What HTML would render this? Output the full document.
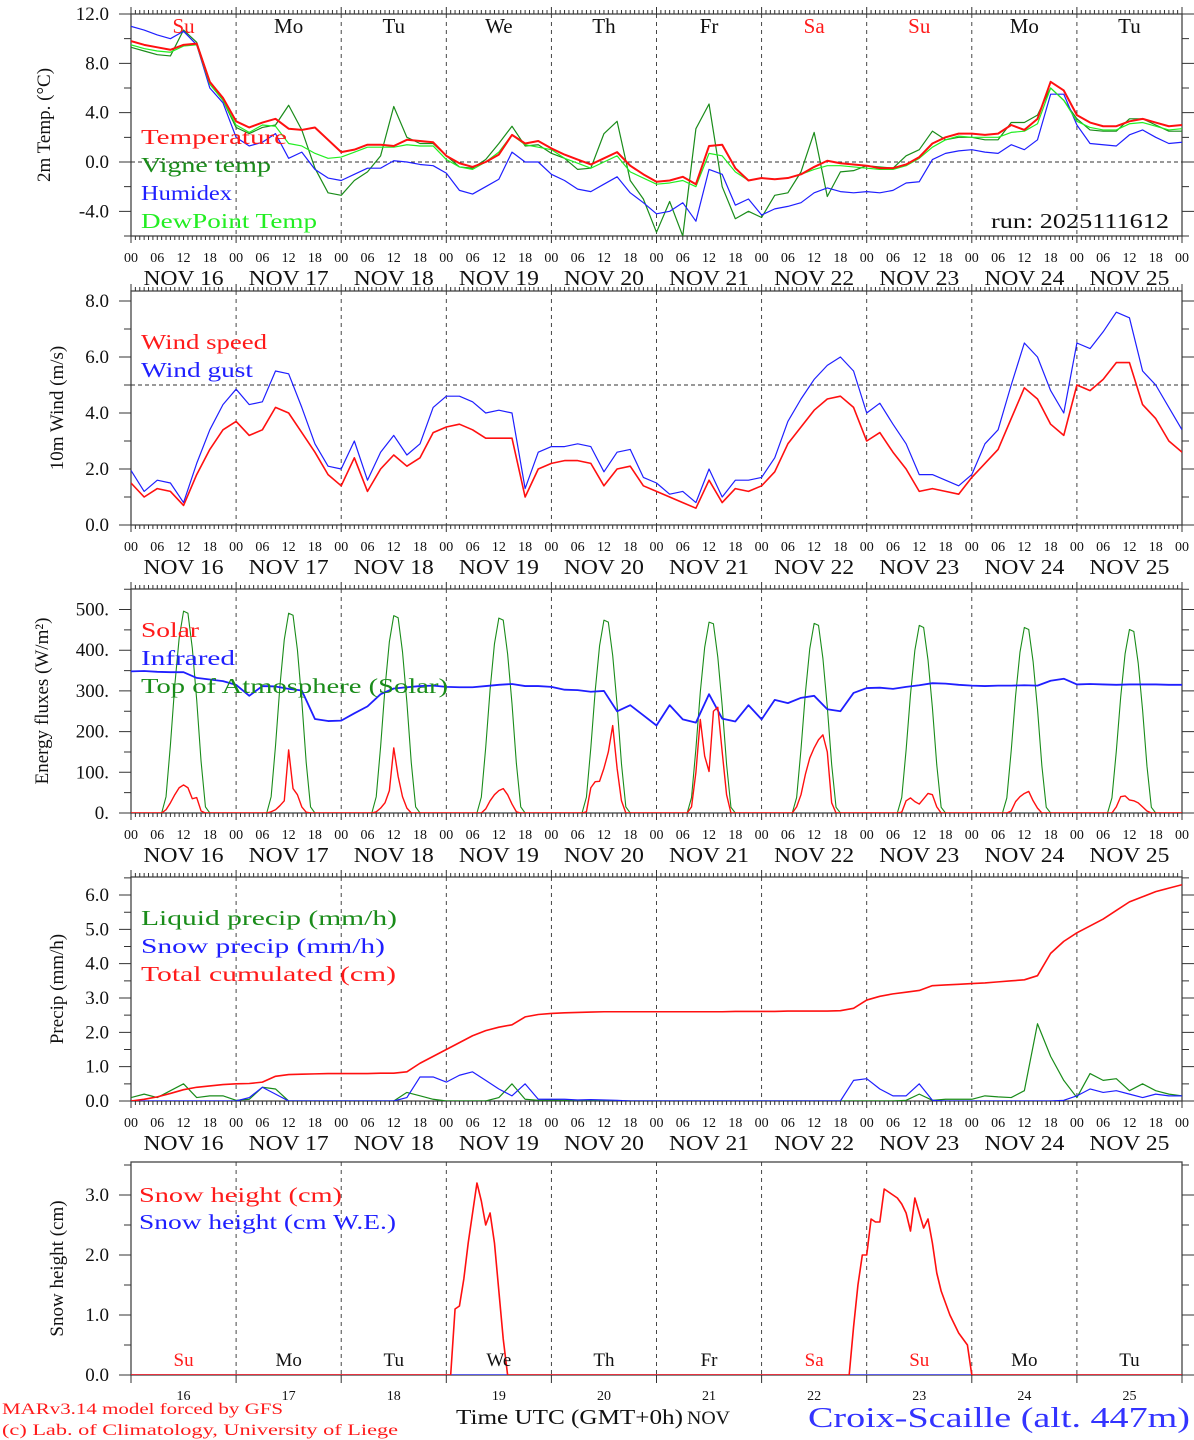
<!DOCTYPE html>
<html><head><meta charset="utf-8">
<style>
html,body{margin:0;padding:0;background:#fff;}
svg{display:block;}
text{font-family:"Liberation Serif","DejaVu Serif",serif;}
</style></head>
<body>
<svg id="chart" width="1194" height="1440" viewBox="0 0 1194 1440" xmlns="http://www.w3.org/2000/svg">
<defs>
<clipPath id="c1"><rect x="131" y="14" width="1051" height="222"/></clipPath>
<clipPath id="c2"><rect x="131" y="291" width="1051" height="234"/></clipPath>
<clipPath id="c3"><rect x="131" y="589" width="1051" height="224"/></clipPath>
<clipPath id="c4"><rect x="131" y="877" width="1051" height="224"/></clipPath>
<clipPath id="c5"><rect x="131" y="1162" width="1051" height="213"/></clipPath>
</defs>
</svg>
<script>
// ---------- DATA (3-hourly, 81 points from Nov16 00h to Nov26 00h) ----------
const days = ["16","17","18","19","20","21","22","23","24","25"];
const weekdays = ["Su","Mo","Tu","We","Th","Fr","Sa","Su","Mo","Tu"];
const hourTicks = ["00","06","12","18"];
const tempTicks = [12.0, 8.0, 4.0, 0.0, -4.0];
const windTicks = [8.0, 6.0, 4.0, 2.0, 0.0];
const energyTicks = [500, 400, 300, 200, 100, 0];
const precipTicks = [6.0, 5.0, 4.0, 3.0, 2.0, 1.0, 0.0];
const snowTicks = [3.0, 2.0, 1.0, 0.0];

const temperature = [9.8,9.5,9.3,9.1,9.5,9.6,6.5,5.2, 3.3,2.8,3.2,3.5,2.7,2.6,2.8,1.8, 0.8,1.0,1.4,1.4,1.3,1.8,1.7,1.6, 0.5,-0.1,-0.4,0.0,0.6,2.2,1.5,1.7, 1.1,0.6,0.2,-0.2,0.3,0.8,-0.3,-1.0, -1.6,-1.5,-1.2,-1.8,1.3,1.4,-0.5,-1.5, -1.3,-1.4,-1.3,-1.0,-0.4,0.1,-0.1,-0.2, -0.3,-0.5,-0.5,-0.2,0.4,1.5,2.0,2.3, 2.3,2.2,2.3,3.0,2.6,3.5,6.5,5.8, 3.8,3.2,2.9,2.9,3.3,3.5,3.2,2.9, 3.0];
const vigneTemp = [9.3,9.0,8.7,8.6,10.7,9.7,6.5,5.0, 2.8,2.3,2.8,3.0,4.6,2.6,-0.5,-2.5, -2.7,-1.5,-0.8,0.5,4.5,2.0,1.5,1.5, 0.5,-0.4,-0.5,0.2,1.5,2.9,1.3,1.4, 0.7,0.3,-0.6,-0.5,2.3,3.3,-1.5,-3.0, -5.7,-3.2,-6.0,2.7,4.7,-2.0,-4.6,-4.0, -4.5,-2.7,-2.5,-0.8,2.4,-2.8,-0.8,-0.7, -0.3,-0.4,-0.5,0.5,1.0,2.5,1.8,2.0, 2.0,1.8,1.8,3.2,3.2,3.8,6.0,5.0, 3.5,2.6,2.5,2.5,3.5,3.5,3.0,2.5, 2.5];
const humidex = [11.0,10.7,10.3,10.0,10.6,9.5,6.0,4.8, 2.0,1.3,1.6,2.3,0.3,0.8,-0.6,-1.3, -1.5,-1.0,-0.5,-0.5,0.1,0.0,-0.2,-0.3, -0.9,-2.3,-2.6,-2.0,-1.4,0.8,0.0,0.0, -1.0,-1.5,-2.2,-2.4,-1.8,-1.2,-2.5,-3.3, -4.2,-4.0,-3.3,-4.8,-0.6,-1.0,-3.5,-3.0, -4.3,-3.8,-3.6,-3.3,-2.5,-2.1,-2.4,-2.5, -2.4,-2.5,-2.3,-1.7,-1.6,0.2,0.7,0.9, 1.0,0.8,0.7,1.4,1.0,1.8,5.5,5.5, 3.0,1.5,1.4,1.3,2.2,2.6,2.0,1.5, 1.6];
const dewPoint = [9.5,9.2,9.0,8.9,9.4,9.5,6.3,5.0, 3.0,2.4,3.0,2.9,1.5,1.3,0.7,0.3, 0.4,0.8,1.2,1.2,1.2,1.4,1.3,1.3, 0.2,-0.4,-0.6,0.0,0.8,2.2,1.4,1.2, 1.0,0.3,-0.1,-0.5,0.0,0.5,-0.8,-1.3, -1.8,-1.7,-1.5,-2.0,0.7,0.5,-0.8,-1.5, -1.3,-1.4,-1.3,-1.0,-0.6,-0.3,-0.3,-0.4, -0.5,-0.6,-0.6,-0.3,0.3,1.2,1.8,2.1, 2.0,2.0,2.0,2.4,2.5,3.1,6.0,5.0, 3.3,2.8,2.6,2.6,3.1,3.2,2.9,2.6, 2.7];

const windSpeed = [1.5,1.0,1.3,1.2,0.7,1.8,2.7,3.4, 3.7,3.2,3.4,4.2,4.0,3.3,2.6,1.8, 1.4,2.4,1.2,2.0,2.5,2.1,2.4,3.3, 3.5,3.6,3.4,3.1,3.1,3.1,1.0,2.0, 2.2,2.3,2.3,2.2,1.4,2.0,2.1,1.4, 1.2,1.0,0.8,0.6,1.6,0.8,1.3,1.2, 1.4,1.9,2.9,3.5,4.1,4.5,4.6,4.2, 3.0,3.3,2.6,2.0,1.2,1.3,1.2,1.1, 1.7,2.2,2.7,3.8,4.9,4.5,3.6,3.2, 5.0,4.8,5.2,5.8,5.8,4.3,3.8,3.0, 2.6];
const windGust = [1.95,1.2,1.6,1.5,0.8,2.2,3.4,4.3, 4.85,4.3,4.4,5.5,5.4,4.2,2.9,2.1, 2.0,3.0,1.6,2.6,3.2,2.5,2.9,4.2, 4.6,4.6,4.4,4.0,4.1,4.0,1.3,2.6, 2.8,2.8,2.9,2.8,1.9,2.6,2.7,1.7, 1.5,1.1,1.2,0.8,2.0,1.0,1.6,1.6, 1.7,2.4,3.7,4.5,5.2,5.7,6.0,5.5, 4.0,4.35,3.6,2.9,1.8,1.8,1.6,1.4, 1.8,2.9,3.4,5.0,6.5,6.0,4.8,4.0, 6.5,6.3,6.9,7.6,7.4,5.5,5.0,4.2, 3.4];

const infrared = [348,349,347,346,346,332,328,324, 315,288,312,311,305,301,231,226, 227,245,262,292,306,309,312,313, 310,309,309,312,315,317,312,312, 310,303,302,298,300,250,265,240, 215,265,230,222,292,232,225,265, 230,278,270,283,288,255,250,295, 307,308,305,310,314,319,318,315, 313,312,313,313,314,313,325,330, 316,317,316,315,316,316,316,315, 315];
// daytime hourly values (hours 07..18) per day
const dayHours = [7,8,9,10,11,12,13,14,15,16,17,18];
const solarByDay = [
 [0,8,25,45,62,69,62,35,38,5,0,0],
 [0,3,8,18,30,155,60,45,15,2,0,0],
 [0,3,12,25,55,160,90,40,12,0,0,0],
 [0,0,10,30,45,55,60,45,22,3,0,0],
 [0,3,62,77,78,110,150,215,110,30,0,0],
 [0,15,100,230,140,102,250,260,150,45,0,0],
 [0,15,45,95,135,160,180,192,150,25,0,0],
 [0,2,30,37,28,22,35,48,45,15,0,0],
 [0,0,5,28,40,48,53,30,12,0,0,0],
 [0,0,15,40,42,32,30,25,15,5,0,0]];
const toaByDay = [
 [0,40,167,314,430,496,491,405,278,127,15,0],
 [0,40,165,311,426,491,486,401,276,125,15,0],
 [0,40,163,307,421,485,480,396,272,124,15,0],
 [0,39,161,303,416,479,474,391,269,122,15,0],
 [0,39,160,300,411,474,469,387,266,121,15,0],
 [0,38,158,297,407,469,465,383,263,120,14,0],
 [0,38,157,295,404,466,461,380,261,119,14,0],
 [0,38,155,291,400,461,456,376,259,118,14,0],
 [0,37,153,288,395,456,451,372,256,116,14,0],
 [0,37,152,285,391,451,446,368,253,115,14,0]];

const liquidPrecip = [0.1,0.2,0.1,0.3,0.5,0.1,0.15,0.15, 0.02,0.05,0.4,0.35,0,0,0,0, 0,0,0,0,0,0.25,0.15,0.05, 0,0,0,0,0.1,0.5,0.05,0.02, 0.03,0.02,0.02,0.02,0.01,0.01,0,0, 0,0,0,0,0,0,0,0, 0,0,0,0,0,0,0,0, 0,0,0,0.02,0.2,0.02,0.05,0.05, 0.05,0.15,0.12,0.1,0.3,2.25,1.3,0.6, 0.1,0.8,0.6,0.65,0.3,0.5,0.3,0.2, 0.15];
const snowPrecip = [0,0,0,0,0,0,0,0, 0,0.1,0.4,0.2,0,0,0,0, 0,0,0,0,0,0.1,0.7,0.7, 0.55,0.75,0.85,0.6,0.35,0.15,0.5,0.05, 0.05,0.05,0.03,0.04,0.03,0.02,0,0, 0,0,0,0,0,0,0,0, 0,0,0,0,0,0,0,0.6, 0.65,0.35,0.15,0.15,0.5,0.02,0,0, 0,0,0,0,0,0,0,0.02, 0.15,0.35,0.25,0.3,0.2,0.1,0.2,0.15, 0.15];
const totalCumul = [0,0.05,0.12,0.22,0.33,0.4,0.44,0.48, 0.5,0.51,0.55,0.72,0.77,0.78,0.79,0.8, 0.8,0.8,0.8,0.81,0.81,0.85,1.1,1.3, 1.5,1.7,1.9,2.05,2.15,2.22,2.45,2.52, 2.55,2.57,2.58,2.59,2.6,2.6,2.6,2.6, 2.6,2.6,2.6,2.6,2.6,2.6,2.61,2.61, 2.61,2.61,2.62,2.62,2.62,2.62,2.63,2.7, 2.94,3.05,3.12,3.17,3.22,3.36,3.38,3.4, 3.42,3.44,3.47,3.5,3.53,3.65,4.3,4.65, 4.9,5.1,5.3,5.55,5.8,5.95,6.1,6.2, 6.3];

const snowHours = [0,73,74,75,76,77,78,79,80,81,82,83,84,85,86,164,165,166,167,168,169,170,171,172,173,174,175,176,177,178,179,180,181,182,183,184,185,186,187,188,189,190,191,192,240];
const snowHeight = [0,0,1.1,1.15,1.6,2.2,2.7,3.2,2.9,2.5,2.7,2.2,1.4,0.6,0,0,0.8,1.5,2.0,2.0,2.6,2.55,2.55,3.1,3.05,3.0,2.95,2.85,2.7,2.4,2.95,2.7,2.45,2.6,2.2,1.7,1.4,1.2,1.0,0.85,0.7,0.6,0.5,0,0];
const snowWE = [0,0];
const snowWEHours = [0,240];

// ---------- DRAWING ----------
const NS = 'http://www.w3.org/2000/svg';
const svg = document.getElementById('chart');
const X0 = 131, X1 = 1182;
function X(h){ return X0 + h*(X1-X0)/240; }
function mk(tag, parent){ const e=document.createElementNS(NS,tag); (parent||svg).appendChild(e); return e; }
function txt(parent, x, y, s, size, color, anchor){
  const t = mk('text', parent);
  t.setAttribute('x', x); t.setAttribute('y', y);
  t.setAttribute('font-size', size); t.setAttribute('fill', color||'#000');
  if(anchor) t.setAttribute('text-anchor', anchor);
  t.textContent = s; return t;
}
function scaler(top,bottom,vmin,vmax){ return v => bottom - (v-vmin)/(vmax-vmin)*(bottom-top); }

const panels = [
 {id:'temp', top:14, bottom:236, vmin:-6, vmax:12, clip:'c1'},
 {id:'wind', top:291, bottom:525, vmin:0, vmax:8.357, clip:'c2'},
 {id:'energy', top:589, bottom:813, vmin:0, vmax:550.5, clip:'c3'},
 {id:'precip', top:877, bottom:1101, vmin:0, vmax:6.525, clip:'c4'},
 {id:'snow', top:1162, bottom:1375, vmin:0, vmax:3.55, clip:'c5'}
];

function frame(p, ticks, fmt, minorStep, title, titleX, showHourRow){
  const g = mk('g');
  
  
  const Y = scaler(p.top,p.bottom,p.vmin,p.vmax);
  const r = mk('rect', g);
  r.setAttribute('x',X0); r.setAttribute('y',p.top); r.setAttribute('width',X1-X0); r.setAttribute('height',p.bottom-p.top);
  r.setAttribute('fill','none'); r.setAttribute('stroke','#444'); r.setAttribute('stroke-width','1.3');
  
  
  for(let d=1; d<10; d++){
    const l = mk('line', g);
    l.setAttribute('x1',X(d*24)); l.setAttribute('x2',X(d*24)); l.setAttribute('y1',p.top); l.setAttribute('y2',p.bottom);
    l.setAttribute('stroke','#333'); l.setAttribute('stroke-dasharray','4,4'); l.setAttribute('stroke-width','0.9');
    
    
  }
  let dstr='';
  if(showHourRow){
    for(let h=0; h<=240; h++){
      const len = (h%24===0)?7:4;
      dstr += `M${X(h).toFixed(2)} ${p.top}v${-len}M${X(h).toFixed(2)} ${p.bottom}v${len}`;
    }
  } else {
    for(let d=0; d<=10; d++) dstr += `M${X(d*24).toFixed(2)} ${p.bottom}v8`;
  }
  for(let v=p.vmin; v<=p.vmax+1e-9; v+=minorStep){
    const major = ticks.some(t=>Math.abs(t-v)<1e-6);
    const len = major?12:7;
    const y = Y(v).toFixed(2);
    dstr += `M${X0} ${y}h${-len}M${X1} ${y}h${len}`;
  }
  const tk = mk('path', g);
  tk.setAttribute('d', dstr); tk.setAttribute('stroke','#333'); tk.setAttribute('stroke-width','1'); tk.setAttribute('fill','none');
  
  
  ticks.forEach(v=>{
    const t = txt(g, 109, Y(v)+6, fmt(v), 19, '#111', 'end');
    
    
  });
  const tt = txt(g, 0, 0, title, 19, '#111', 'middle');
  tt.setAttribute('transform', `translate(${titleX},${(p.top+p.bottom)/2}) rotate(-90)`);
  
  
  if(showHourRow){
    for(let d=0; d<=10; d++){
      hourTicks.forEach((s,i)=>{
        if(d===10 && i>0) return;
        const t = txt(g, X(d*24+i*6), p.bottom+26, s, 14, '#111', 'middle');
        
        
      });
    }
    days.forEach((s,d)=>{
      const t = txt(g, X(d*24+12), p.bottom+49, 'NOV ' + s, 21, '#111', 'middle');
      t.setAttribute('textLength', 80); t.setAttribute('lengthAdjust','spacingAndGlyphs');
      
      
    });
  }
  return {g, Y};
}

function line(g, p, Y, hours, vals, color, width, name){
  let d='';
  vals.forEach((v,i)=>{ d += (i?'L':'M') + X(hours[i]).toFixed(2) + ' ' + Y(v).toFixed(2); });
  const pa = mk('path', g);
  pa.setAttribute('d', d); pa.setAttribute('fill','none'); pa.setAttribute('stroke', color);
  pa.setAttribute('stroke-width', width); pa.setAttribute('stroke-linejoin','round');
  pa.setAttribute('clip-path', `url(#${p.clip})`);
  
  
}
function legend(g, x, y, s, color, w, name){
  const t = txt(g, x, y+7, s, 21, color);
  t.setAttribute('textLength', w); t.setAttribute('lengthAdjust','spacingAndGlyphs');
  
  
}
function hseq(vals){ return vals.map((v,i)=>i*3); }
function hline(g, p, Y, v){
  const l = mk('line', g);
  l.setAttribute('x1',X0); l.setAttribute('x2',X1); l.setAttribute('y1',Y(v)); l.setAttribute('y2',Y(v));
  l.setAttribute('stroke','#333'); l.setAttribute('stroke-dasharray','4,3'); l.setAttribute('stroke-width','0.9');
  
  
}
function daySeries(byDay){
  const hs=[0], vs=[0];
  byDay.forEach((arr,d)=>{ arr.forEach((v,i)=>{ hs.push(d*24+dayHours[i]); vs.push(v); }); });
  hs.push(240); vs.push(0);
  return {hs, vs};
}

// Panel 1
{
  const p = panels[0];
  const {g,Y} = frame(p, tempTicks, v=>v.toFixed(1), 2, '2m Temp. (°C)', 50, true);
  hline(g,p,Y,0);
  line(g,p,Y,hseq(vigneTemp),vigneTemp,'#1a8c1a',1.2,'vigne-temp-line');
  line(g,p,Y,hseq(humidex),humidex,'#1f1fff',1.2,'humidex-line');
  line(g,p,Y,hseq(dewPoint),dewPoint,'#22ee22',1.2,'dewpoint-line');
  line(g,p,Y,hseq(temperature),temperature,'#ff1010',2,'temperature-line');
  weekdays.forEach((s,d)=>{
    const t = txt(g, X(d*24+12), 33, s, 21, (s==='Su'||s==='Sa')?'#ff1a1a':'#111', 'middle');
    
    
  });
  legend(g,141,137,'Temperature','#ff1a1a',146,'legend-temperature');
  legend(g,141,165,'Vigne temp','#1a8c1a',130,'legend-vigne-temp');
  legend(g,141,193,'Humidex','#1f1fff',91,'legend-humidex');
  legend(g,141,221,'DewPoint Temp','#22ee22',176,'legend-dewpoint');
  const r = txt(g, 1169, 228, 'run: 2025111612', 21, '#111', 'end');
  r.setAttribute('textLength', 178); r.setAttribute('lengthAdjust','spacingAndGlyphs');
  
  
}
// Panel 2
{
  const p = panels[1];
  const {g,Y} = frame(p, windTicks, v=>v.toFixed(1), 1, '10m Wind (m/s)', 63, true);
  hline(g,p,Y,5);
  line(g,p,Y,hseq(windGust),windGust,'#1f1fff',1.2,'wind-gust-line');
  line(g,p,Y,hseq(windSpeed),windSpeed,'#ff1010',1.6,'wind-speed-line');
  legend(g,141,342,'Wind speed','#ff1a1a',126,'legend-wind-speed');
  legend(g,141,370,'Wind gust','#1f1fff',112,'legend-wind-gust');
}
// Panel 3
{
  const p = panels[2];
  const {g,Y} = frame(p, energyTicks, v=>v+'.', 50, 'Energy fluxes (W/m²)', 48, true);
  const toa = daySeries(toaByDay), sol = daySeries(solarByDay);
  line(g,p,Y,toa.hs,toa.vs,'#1a8c1a',1.1,'toa-solar-line');
  line(g,p,Y,hseq(infrared),infrared,'#1f1fff',1.8,'infrared-line');
  line(g,p,Y,sol.hs,sol.vs,'#ff1010',1.4,'solar-line');
  legend(g,141,630,'Solar','#ff1a1a',58,'legend-solar');
  legend(g,141,658,'Infrared','#1f1fff',94,'legend-infrared');
  legend(g,141,686,'Top of Atmosphere (Solar)','#1a8c1a',307,'legend-toa');
}
// Panel 4
{
  const p = panels[3];
  const {g,Y} = frame(p, precipTicks, v=>v.toFixed(1), 0.5, 'Precip (mm/h)', 63, true);
  line(g,p,Y,hseq(liquidPrecip),liquidPrecip,'#1a8c1a',1.2,'liquid-precip-line');
  line(g,p,Y,hseq(snowPrecip),snowPrecip,'#1f1fff',1.2,'snow-precip-line');
  line(g,p,Y,hseq(totalCumul),totalCumul,'#ff1010',1.6,'total-cumulated-line');
  legend(g,141,918,'Liquid precip (mm/h)','#1a8c1a',256,'legend-liquid-precip');
  legend(g,141,946,'Snow precip (mm/h)','#1f1fff',244,'legend-snow-precip');
  legend(g,141,974,'Total cumulated (cm)','#ff1a1a',255,'legend-total-cumulated');
}
// Panel 5
{
  const p = panels[4];
  const {g,Y} = frame(p, snowTicks, v=>v.toFixed(1), 0.5, 'Snow height (cm)', 63, false);
  line(g,p,Y,snowWEHours,snowWE,'#1f1fff',1.2,'snow-we-line');
  line(g,p,Y,snowHours,snowHeight,'#ff1010',1.6,'snow-height-line');
  legend(g,139,1195,'Snow height (cm)','#ff1a1a',203,'legend-snow-height');
  legend(g,139,1222,'Snow height (cm W.E.)','#1f1fff',257,'legend-snow-we');
  weekdays.forEach((s,d)=>{
    const t = txt(g, X(d*24+12), 1366, s, 19, (s==='Su'||s==='Sa')?'#ff1a1a':'#111', 'middle');
    
    
  });
  days.forEach((s,d)=>{
    const t = txt(g, X(d*24+12), 1400, s, 14, '#111', 'middle');
    
    
  });
}
// footer
{
  const a = txt(svg, 2, 1414, 'MARv3.14 model forced by GFS', 16, '#ff1a1a');
  a.setAttribute('textLength', 281); a.setAttribute('lengthAdjust','spacingAndGlyphs');
  
  
  const b = txt(svg, 2, 1435, '(c) Lab. of Climatology, University of Liege', 16, '#ff1a1a');
  b.setAttribute('textLength', 396); b.setAttribute('lengthAdjust','spacingAndGlyphs');
  
  
  const c = txt(svg, 456, 1424, 'Time UTC (GMT+0h)', 21, '#111');
  c.setAttribute('textLength', 227); c.setAttribute('lengthAdjust','spacingAndGlyphs');
  
  
  const n = txt(svg, 687, 1424, 'NOV', 19, '#111');
  n.setAttribute('textLength', 43); n.setAttribute('lengthAdjust','spacingAndGlyphs');
  
  
  const s = txt(svg, 808, 1427, 'Croix-Scaille (alt. 447m)', 28, '#3333ff');
  s.setAttribute('textLength', 382); s.setAttribute('lengthAdjust','spacingAndGlyphs');
  
  
}
</script>
</body></html>
